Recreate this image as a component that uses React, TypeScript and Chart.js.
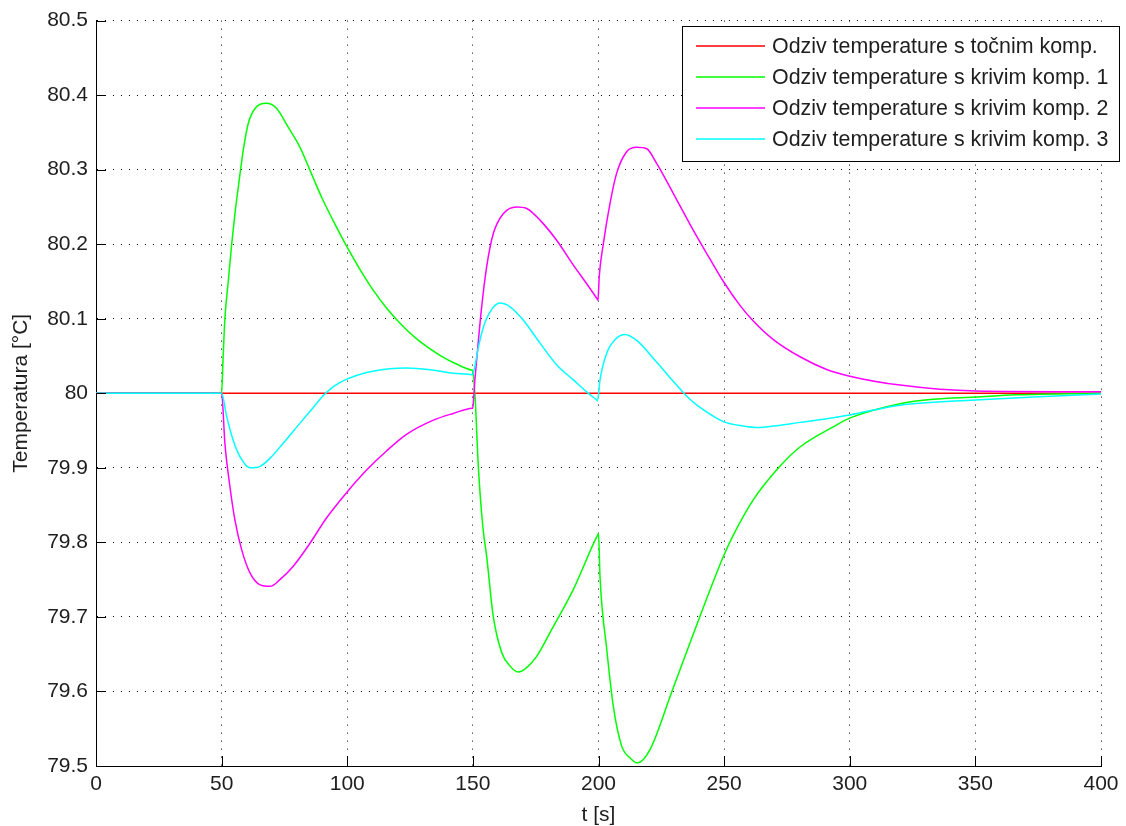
import React, { useEffect, useRef } from "react";
import { Chart, registerables } from "chart.js";

Chart.register(...registerables);

// Axis ranges / ticks
const xTickValues = [0, 50, 100, 150, 200, 250, 300, 350, 400];
const yTickValues = [79.5, 79.6, 79.7, 79.8, 79.9, 80, 80.1, 80.2, 80.3, 80.4, 80.5];

const seriesLabels = [
  "Odziv temperature s točnim komp.",
  "Odziv temperature s krivim komp. 1",
  "Odziv temperature s krivim komp. 2",
  "Odziv temperature s krivim komp. 3",
];
const seriesColors = ["#ff0000", "#00ff00", "#ff00ff", "#00ffff"];

// Series: exact compensation
const exactT = [0, 400];
const exactY = [80, 80];

// Series: wrong compensation 1 (green)
const kriv1T = [
  0, 50, 50.5, 51.3, 52.7, 54.0, 55.3, 57.0, 58.6, 60.6, 63.3, 67.9, 71.9, 76.5, 81.2, 85.2,
  89.8, 94.5, 99.8, 105.1, 110.4, 115.7, 121, 128, 136.9, 143, 149.8, 149.9, 150.8, 152.2, 154,
  155.5, 158.1, 161.5, 164.8, 168.1, 171.4, 175.4, 180.7, 190, 199.9, 200, 200.6, 203.3, 205.9,
  209.2, 212.5, 215.4, 220.5, 229, 236.4, 240.4, 249.7, 253.7, 261.6, 272.2, 280.2, 293.4,
  300.2, 320, 333, 350, 366, 400,
];
const kriv1Y = [
  80, 80, 80.04, 80.1, 80.152, 80.2, 80.241, 80.286, 80.326, 80.362, 80.382, 80.389, 80.382,
  80.357, 80.33, 80.299, 80.263, 80.231, 80.197, 80.166, 80.138, 80.114, 80.094, 80.072,
  80.051, 80.04, 80.031, 80.0308, 80.0, 79.9, 79.82, 79.781, 79.701, 79.652, 79.634, 79.626,
  79.632, 79.647, 79.679, 79.737, 79.8115, 79.812, 79.754, 79.656, 79.58, 79.527, 79.511,
  79.504, 79.522, 79.598, 79.665, 79.701, 79.781, 79.81, 79.857, 79.902, 79.928, 79.955,
  79.967, 79.986, 79.992, 79.995, 79.998, 80.0,
];

// Series: wrong compensation 2 (magenta)
const kriv2T = [
  0, 50, 51.3, 53.3, 55.3, 58, 61.3, 65.3, 69.3, 73.2, 78.5, 85.2, 91.8, 99.8, 107.7, 115.7,
  123.6, 134.3, 142.2, 149.8, 149.9, 150.8, 152.2, 153.5, 155.5, 158.1, 162.1, 167.4, 171.4,
  176.8, 183.4, 190, 195.3, 199.7, 199.8, 200.3, 201.9, 204.6, 207.2, 211.2, 215.2, 219.2,
  223.2, 229.8, 237.7, 244.4, 249.7, 256.3, 261.6, 269.6, 280.2, 290.8, 300, 320, 350, 400,
];
const kriv2Y = [
  80, 80, 79.933, 79.875, 79.83, 79.79, 79.759, 79.743, 79.741, 79.75, 79.768, 79.799, 79.833,
  79.867, 79.897, 79.923, 79.945, 79.964, 79.973, 79.98, 79.9801, 80.018, 80.071, 80.116,
  80.17, 80.214, 80.241, 80.25, 80.248, 80.232, 80.205, 80.172, 80.147, 80.1255, 80.125,
  80.157, 80.2, 80.255, 80.295, 80.324, 80.33, 80.328, 80.308, 80.268, 80.219, 80.18, 80.15,
  80.118, 80.097, 80.072, 80.049, 80.032, 80.023, 80.011, 80.003, 80.002,
];

// Series: wrong compensation 3 (cyan)
const kriv3T = [
  0, 50, 52, 54.6, 57.3, 61.3, 65.3, 69.3, 74.5, 81.2, 86.5, 90.5, 94.5, 99.8, 107.7, 117,
  123.6, 134.3, 142.2, 149.8, 149.9, 150.8, 152.2, 154.2, 156.8, 160.8, 164.8, 170.1, 176.8,
  183.4, 190, 195.3, 199.5, 199.6, 200.6, 203.3, 207.2, 210.5, 215.2, 223.1, 231.1, 236.4,
  240.4, 249.7, 257.6, 263.5, 269.6, 280.2, 290.8, 300, 320, 350, 373, 400,
];
const kriv3Y = [
  80, 80, 79.969, 79.937, 79.915, 79.9, 79.902, 79.913, 79.933, 79.96, 79.981, 79.997, 80.009,
  80.019, 80.028, 80.033, 80.034, 80.031, 80.027, 80.025, 80.0249, 80.036, 80.062, 80.089,
  80.109, 80.121, 80.116, 80.098, 80.067, 80.038, 80.018, 80.002, 79.9903, 79.99, 80.018,
  80.054, 80.074, 80.079, 80.071, 80.042, 80.011, 79.992, 79.981, 79.962, 79.956, 79.954,
  79.956, 79.961, 79.966, 79.971, 79.984, 79.991, 79.995, 79.999,
];

const FONT = "'Liberation Sans', Arial, Helvetica, sans-serif";
const TEXT_COLOR = "#1e1e1e";

const toPoints = (t: number[], y: number[]) => t.map((x, i) => ({ x, y: y[i] }));

const decorPlugin = {
  id: "matlabDecor",
  afterDraw(chart: any) {
    const ctx = chart.ctx;
    const area = chart.chartArea;
    const xs = chart.scales.x;
    const ys = chart.scales.y;
    ctx.save();
    // inward tick marks
    ctx.strokeStyle = "#000";
    ctx.lineWidth = 1;
    ctx.beginPath();
    xTickValues.forEach((v) => {
      const px = Math.round(xs.getPixelForValue(v)) + 0.5;
      ctx.moveTo(px, area.bottom);
      ctx.lineTo(px, area.bottom - 10);
    });
    yTickValues.forEach((v) => {
      const py = Math.round(ys.getPixelForValue(v)) + 0.5;
      ctx.moveTo(area.left, py);
      ctx.lineTo(area.left + 10, py);
    });
    ctx.stroke();

    // legend box
    const bx = 682.5, by = 26.5, bw = 437, bh = 135;
    ctx.fillStyle = "#ffffff";
    ctx.fillRect(bx, by, bw, bh);
    ctx.strokeStyle = "#000";
    ctx.lineWidth = 1;
    ctx.strokeRect(bx, by, bw, bh);
    ctx.font = `21.4px ${FONT}`;
    ctx.textBaseline = "middle";
    ctx.textAlign = "left";
    chart.data.datasets.forEach((ds: any, i: number) => {
      const rowY = 46 + i * 31;
      ctx.strokeStyle = ds.borderColor;
      ctx.lineWidth = 1.5;
      ctx.beginPath();
      ctx.moveTo(696, rowY);
      ctx.lineTo(765, rowY);
      ctx.stroke();
      ctx.fillStyle = TEXT_COLOR;
      ctx.fillText(ds.label, 772, rowY + 1);
    });
    ctx.restore();
  },
};

export default function App() {
  const canvasRef = useRef<HTMLCanvasElement | null>(null);

  useEffect(() => {
    const canvas = canvasRef.current;
    if (!canvas) return;
    const series = [
      toPoints(exactT, exactY),
      toPoints(kriv1T, kriv1Y),
      toPoints(kriv2T, kriv2Y),
      toPoints(kriv3T, kriv3Y),
    ];
    const chart = new Chart(canvas, {
      type: "line",
      data: {
        datasets: series.map((pts, i) => ({
          label: seriesLabels[i],
          data: pts,
          borderColor: seriesColors[i],
          backgroundColor: seriesColors[i],
          borderWidth: 1.5,
          pointRadius: 0,
          fill: false,
          tension: 0,
          cubicInterpolationMode: "monotone" as const,
          order: 4 - i,
        })),
      },
      options: {
        animation: false,
        responsive: false,
        devicePixelRatio: 1,
        layout: { padding: { left: 0, top: 20, right: 25, bottom: 0 } },
        plugins: {
          legend: { display: false },
          tooltip: { enabled: false },
          title: { display: false },
        },
        scales: {
          x: {
            type: "linear",
            min: 0,
            max: 400,
            afterFit: (s: any) => {
              s.height = 60;
            },
            afterBuildTicks: (s: any) => {
              s.ticks = xTickValues.map((v) => ({ value: v }));
            },
            ticks: {
              color: TEXT_COLOR,
              font: { family: FONT, size: 21, lineHeight: 1.2 },
              padding: 6,
              maxRotation: 0,
              autoSkip: false,
              callback: (v: any) => String(v),
            },
            grid: { color: "#000", lineWidth: 1, drawTicks: false },
            border: { display: true, color: "#000", width: 1, dash: [1, 7] },
            title: {
              display: true,
              text: "t [s]",
              color: TEXT_COLOR,
              font: { family: FONT, size: 21, lineHeight: 1 },
              padding: { top: 0, bottom: 0 },
            },
          },
          y: {
            type: "linear",
            min: 79.5,
            max: 80.5,
            afterFit: (s: any) => {
              s.width = 96;
            },
            afterBuildTicks: (s: any) => {
              s.ticks = yTickValues.map((v) => ({ value: v }));
            },
            ticks: {
              color: TEXT_COLOR,
              font: { family: FONT, size: 21, lineHeight: 1.2 },
              padding: 8,
              autoSkip: false,
              callback: (v: any) => String(Number(Number(v).toFixed(1))),
            },
            grid: { color: "#000", lineWidth: 1, drawTicks: false },
            border: { display: true, color: "#000", width: 1, dash: [1, 7] },
            title: {
              display: true,
              text: "Temperatura [°C]",
              color: TEXT_COLOR,
              font: { family: FONT, size: 21, lineHeight: 1.2 },
              padding: { top: 9, bottom: 0 },
            },
          },
        },
      },
      plugins: [decorPlugin],
    });
    return () => chart.destroy();
  }, []);

  return (
    <div style={{ position: "absolute", left: 0, top: 0, width: 1126, height: 826, background: "#fff" }}>
      <canvas ref={canvasRef} width={1126} height={826} style={{ width: 1126, height: 826, display: "block" }} />
    </div>
  );
}
